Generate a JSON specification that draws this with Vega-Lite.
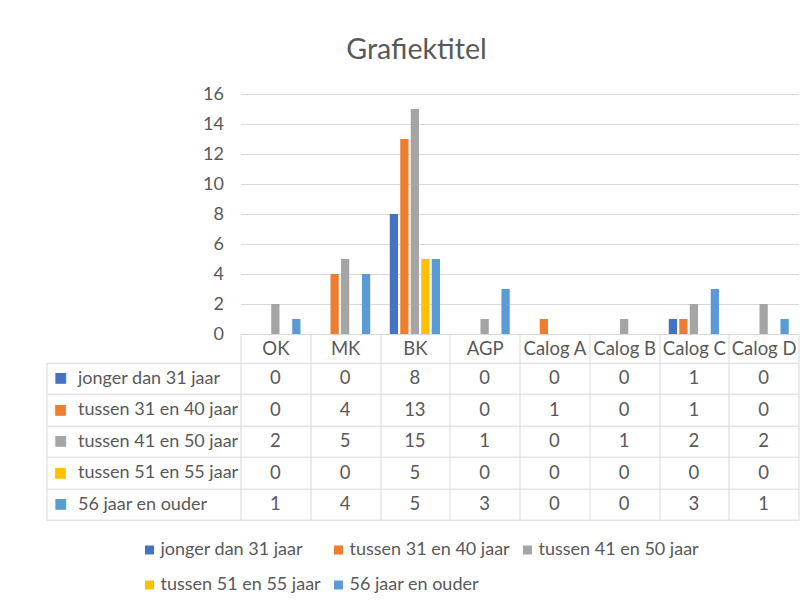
{
  "$schema": "https://vega.github.io/schema/vega-lite/v6.json",
  "background": "white",
  "padding": {"left": 45.5, "top": 36, "right": 10, "bottom": 5},
  "title": {"text": "Grafiektitel", "fontSize": 28.6, "font": "Lato", "fontWeight": "normal", "color": "#595959", "anchor": "middle", "offset": 20, "dx": -6},
  "bounds": "flush",
  "spacing": 28.7,
  "config": {"view": {"stroke": null}, "font": "Lato"},
  "data": {"values": [
    {"categorie": "OK", "reeks": "jonger dan 31 jaar", "aantal": 0},
    {"categorie": "OK", "reeks": "tussen 31 en 40 jaar", "aantal": 0},
    {"categorie": "OK", "reeks": "tussen 41 en 50 jaar", "aantal": 2},
    {"categorie": "OK", "reeks": "tussen 51 en 55 jaar", "aantal": 0},
    {"categorie": "OK", "reeks": "56 jaar en ouder", "aantal": 1},
    {"categorie": "MK", "reeks": "jonger dan 31 jaar", "aantal": 0},
    {"categorie": "MK", "reeks": "tussen 31 en 40 jaar", "aantal": 4},
    {"categorie": "MK", "reeks": "tussen 41 en 50 jaar", "aantal": 5},
    {"categorie": "MK", "reeks": "tussen 51 en 55 jaar", "aantal": 0},
    {"categorie": "MK", "reeks": "56 jaar en ouder", "aantal": 4},
    {"categorie": "BK", "reeks": "jonger dan 31 jaar", "aantal": 8},
    {"categorie": "BK", "reeks": "tussen 31 en 40 jaar", "aantal": 13},
    {"categorie": "BK", "reeks": "tussen 41 en 50 jaar", "aantal": 15},
    {"categorie": "BK", "reeks": "tussen 51 en 55 jaar", "aantal": 5},
    {"categorie": "BK", "reeks": "56 jaar en ouder", "aantal": 5},
    {"categorie": "AGP", "reeks": "jonger dan 31 jaar", "aantal": 0},
    {"categorie": "AGP", "reeks": "tussen 31 en 40 jaar", "aantal": 0},
    {"categorie": "AGP", "reeks": "tussen 41 en 50 jaar", "aantal": 1},
    {"categorie": "AGP", "reeks": "tussen 51 en 55 jaar", "aantal": 0},
    {"categorie": "AGP", "reeks": "56 jaar en ouder", "aantal": 3},
    {"categorie": "Calog A", "reeks": "jonger dan 31 jaar", "aantal": 0},
    {"categorie": "Calog A", "reeks": "tussen 31 en 40 jaar", "aantal": 1},
    {"categorie": "Calog A", "reeks": "tussen 41 en 50 jaar", "aantal": 0},
    {"categorie": "Calog A", "reeks": "tussen 51 en 55 jaar", "aantal": 0},
    {"categorie": "Calog A", "reeks": "56 jaar en ouder", "aantal": 0},
    {"categorie": "Calog B", "reeks": "jonger dan 31 jaar", "aantal": 0},
    {"categorie": "Calog B", "reeks": "tussen 31 en 40 jaar", "aantal": 0},
    {"categorie": "Calog B", "reeks": "tussen 41 en 50 jaar", "aantal": 1},
    {"categorie": "Calog B", "reeks": "tussen 51 en 55 jaar", "aantal": 0},
    {"categorie": "Calog B", "reeks": "56 jaar en ouder", "aantal": 0},
    {"categorie": "Calog C", "reeks": "jonger dan 31 jaar", "aantal": 1},
    {"categorie": "Calog C", "reeks": "tussen 31 en 40 jaar", "aantal": 1},
    {"categorie": "Calog C", "reeks": "tussen 41 en 50 jaar", "aantal": 2},
    {"categorie": "Calog C", "reeks": "tussen 51 en 55 jaar", "aantal": 0},
    {"categorie": "Calog C", "reeks": "56 jaar en ouder", "aantal": 3},
    {"categorie": "Calog D", "reeks": "jonger dan 31 jaar", "aantal": 0},
    {"categorie": "Calog D", "reeks": "tussen 31 en 40 jaar", "aantal": 0},
    {"categorie": "Calog D", "reeks": "tussen 41 en 50 jaar", "aantal": 2},
    {"categorie": "Calog D", "reeks": "tussen 51 en 55 jaar", "aantal": 0},
    {"categorie": "Calog D", "reeks": "56 jaar en ouder", "aantal": 1}
  ]},
  "vconcat": [
    {
      "width": 558,
      "height": 240,
      "mark": {"type": "bar"},
      "encoding": {
        "x": {"field": "categorie", "type": "nominal",
              "scale": {"domain": ["OK", "MK", "BK", "AGP", "Calog A", "Calog B", "Calog C", "Calog D"], "paddingInner": 0.28, "paddingOuter": 0.14},
              "axis": {"labels": false, "ticks": false, "title": null, "domain": true, "domainColor": "#D9D9D9", "grid": false}},
        "xOffset": {"field": "reeks", "type": "nominal",
              "scale": {"domain": ["jonger dan 31 jaar", "tussen 31 en 40 jaar", "tussen 41 en 50 jaar", "tussen 51 en 55 jaar", "56 jaar en ouder"], "paddingInner": 0.21, "paddingOuter": 0}},
        "y": {"field": "aantal", "type": "quantitative",
              "scale": {"domain": [0, 16], "nice": false},
              "axis": {"values": [0, 2, 4, 6, 8, 10, 12, 14, 16], "title": null, "domain": false, "ticks": false, "grid": true, "gridColor": "#D9D9D9", "labelPadding": 17, "labelFontSize": 18, "labelColor": "#595959", "labelFont": "Lato"}},
        "color": {"field": "reeks", "type": "nominal",
              "scale": {"domain": ["jonger dan 31 jaar", "tussen 31 en 40 jaar", "tussen 41 en 50 jaar", "tussen 51 en 55 jaar", "56 jaar en ouder"], "range": ["#4472C4", "#ED7D31", "#A5A5A5", "#FFC000", "#5B9BD5"]},
              "legend": {"orient": "none", "legendX": -100, "legendY": 447, "direction": "horizontal", "columns": 3, "title": null, "symbolType": "square", "symbolSize": 81, "symbolStrokeWidth": 0, "labelFontSize": 18, "labelColor": "#595959", "labelFont": "Lato", "labelOffset": 2, "columnPadding": 8, "rowPadding": 17, "padding": 0, "labelLimit": 300}}
      }
    },
    {
      "width": 558,
      "height": 157.3,
      "layer": [
        {
          "mark": {"type": "text", "fontSize": 18.5, "color": "#595959", "font": "Lato"},
          "encoding": {
            "x": {"field": "categorie", "type": "nominal",
                  "scale": {"domain": ["OK", "MK", "BK", "AGP", "Calog A", "Calog B", "Calog C", "Calog D"], "paddingInner": 0, "paddingOuter": 0},
                  "axis": {"orient": "top", "title": null, "domain": false, "ticks": true, "tickBand": "extent", "tickSize": 28.7, "tickColor": "#D9D9D9", "grid": true, "gridColor": "#D9D9D9", "labelPadding": -14.35, "labelBaseline": "middle", "labelAngle": 0, "labelFontSize": 18.5, "labelColor": "#595959", "labelFont": "Lato"}},
            "y": {"field": "reeks", "type": "nominal",
                  "scale": {"domain": ["jonger dan 31 jaar", "tussen 31 en 40 jaar", "tussen 41 en 50 jaar", "tussen 51 en 55 jaar", "56 jaar en ouder"], "paddingInner": 0, "paddingOuter": 0},
                  "axis": {"orient": "left", "title": null, "domain": false, "ticks": true, "tickBand": "extent", "tickSize": 194, "tickColor": "#D9D9D9", "grid": true, "gridColor": "#D9D9D9", "labelAlign": "left", "labelPadding": -31, "labelFontSize": 18, "labelColor": "#595959", "labelFont": "Lato", "labelLimit": 300}},
            "text": {"field": "aantal", "type": "quantitative"}
          }
        },
        {
          "mark": {"type": "text", "opacity": 0},
          "encoding": {
            "y": {"field": "reeks", "type": "nominal",
                  "axis": {"orient": "left", "offset": 194, "title": null, "domain": true, "domainColor": "#D9D9D9", "ticks": false, "grid": false, "labelExpr": "'■'", "labelFont": "DejaVu Sans", "labelFontSize": 14, "labelAlign": "left", "labelPadding": -7,
                           "labelColor": {"condition": [
                             {"test": "datum.value === 'jonger dan 31 jaar'", "value": "#4472C4"},
                             {"test": "datum.value === 'tussen 31 en 40 jaar'", "value": "#ED7D31"},
                             {"test": "datum.value === 'tussen 41 en 50 jaar'", "value": "#A5A5A5"},
                             {"test": "datum.value === 'tussen 51 en 55 jaar'", "value": "#FFC000"}
                           ], "value": "#5B9BD5"}}},
            "text": {"value": ""}
          }
        }
      ],
      "resolve": {"axis": {"y": "independent"}}
    }
  ]
}
